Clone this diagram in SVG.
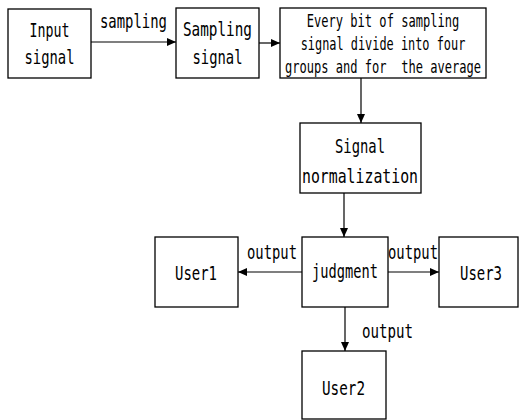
<svg xmlns="http://www.w3.org/2000/svg" width="519" height="420" viewBox="0 0 519 420">
<style>
.box{fill:#fff;stroke:#000;stroke-width:1.3}
.t{font-family:"DejaVu Sans Mono","Liberation Mono",monospace;font-size:19px;fill:#000;text-anchor:middle}
.s{font-size:17px}
.c{stroke:#000;stroke-width:1.2;fill:none;marker-end:url(#ah)}
</style>
<defs>
<marker id="ah" markerUnits="userSpaceOnUse" markerWidth="10" markerHeight="8" refX="9" refY="4" orient="auto">
<path d="M0,0 L9,4 L0,8 z" fill="#000"/>
</marker>
</defs>
<g id="connectors">
<line class="c" x1="91" y1="42" x2="176" y2="42"/>
<line class="c" x1="259" y1="43" x2="280" y2="43"/>
<line class="c" x1="361" y1="78" x2="361" y2="123"/>
<line class="c" x1="344" y1="193" x2="344" y2="237"/>
<line class="c" x1="302" y1="272" x2="238" y2="272"/>
<line class="c" x1="388" y1="272" x2="439" y2="272"/>
<line class="c" x1="345" y1="307" x2="345" y2="351"/>
<text class="t" x="133.5" y="28" textLength="67" lengthAdjust="spacingAndGlyphs">sampling</text>
<text class="t" x="272" y="259" textLength="50" lengthAdjust="spacingAndGlyphs">output</text>
<text class="t" x="413" y="259" textLength="50" lengthAdjust="spacingAndGlyphs">output</text>
<text class="t" x="387.5" y="338" textLength="51" lengthAdjust="spacingAndGlyphs">output</text>
</g>
<g id="input">
<rect class="box" x="8" y="9" width="83" height="69"/>
<text class="t" x="49.5" y="37" textLength="40" lengthAdjust="spacingAndGlyphs">Input</text>
<text class="t" x="49.5" y="64" textLength="50" lengthAdjust="spacingAndGlyphs">signal</text>
</g>
<g id="sampling">
<rect class="box" x="176" y="8" width="83" height="70"/>
<text class="t" x="217.5" y="36" textLength="69" lengthAdjust="spacingAndGlyphs">Sampling</text>
<text class="t" x="217.5" y="64" textLength="50" lengthAdjust="spacingAndGlyphs">signal</text>
</g>
<g id="average">
<rect class="box" x="280" y="8" width="206" height="70"/>
<text class="t s" transform="translate(383,27) scale(0.71,1)" x="0" y="0">Every bit of sampling</text>
<text class="t s" transform="translate(383,50) scale(0.70,1)" x="0" y="0">signal divide into four</text>
<text class="t s" transform="translate(383,73) scale(0.71,1)" x="0" y="0" xml:space="preserve">groups and for  the average</text>
</g>
<g id="normalization">
<rect class="box" x="300" y="123" width="121" height="70"/>
<text class="t" x="360" y="153" font-size="21" textLength="50" lengthAdjust="spacingAndGlyphs">Signal</text>
<text class="t" x="360" y="183" font-size="21" textLength="116" lengthAdjust="spacingAndGlyphs">normalization</text>
</g>
<g id="judgment">
<rect class="box" x="302" y="237" width="86" height="70"/>
<text class="t" x="345" y="278" textLength="66" lengthAdjust="spacingAndGlyphs">judgment</text>
</g>
<g id="user1">
<rect class="box" x="155" y="237" width="83" height="70"/>
<text class="t" x="196" y="280" textLength="42" lengthAdjust="spacingAndGlyphs">User1</text>
</g>
<g id="user3">
<rect class="box" x="439" y="237" width="79" height="70"/>
<text class="t" x="481" y="280" textLength="42" lengthAdjust="spacingAndGlyphs">User3</text>
</g>
<g id="user2">
<rect class="box" x="302" y="351" width="84" height="68"/>
<text class="t" x="343.5" y="395" textLength="43" lengthAdjust="spacingAndGlyphs">User2</text>
</g>
</svg>
